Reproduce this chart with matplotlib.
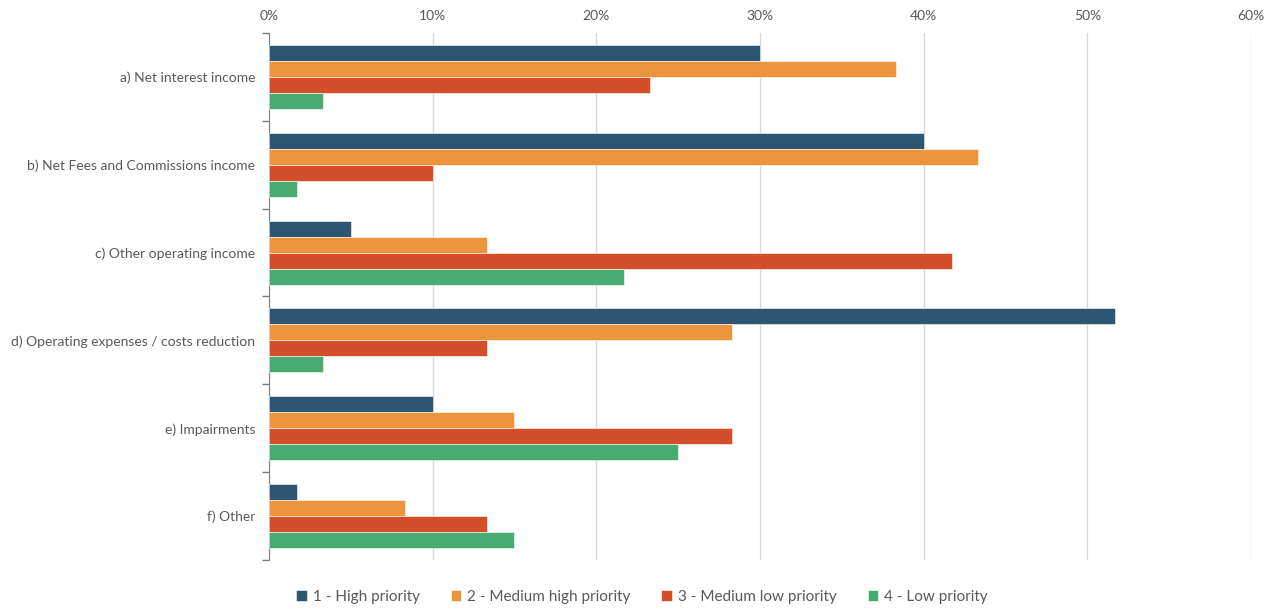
import matplotlib
matplotlib.use("Agg")
import matplotlib.pyplot as plt
import matplotlib.ticker as mticker
import numpy as np

# ── data (percent) ──────────────────────────────────────────────────
categories = [
    "a) Net interest income",
    "b) Net Fees and Commissions income",
    "c) Other operating income",
    "d) Operating expenses / costs reduction",
    "e) Impairments",
    "f) Other",
]
series_names = [
    "1 - High priority",
    "2 - Medium high priority",
    "3 - Medium low priority",
    "4 - Low priority",
]
high = [30.0, 40.0, 5.0, 51.7, 10.0, 1.7]
med_high = [38.3, 43.3, 13.3, 28.3, 15.0, 8.3]
med_low = [23.3, 10.0, 41.7, 13.3, 28.3, 13.3]
low = [3.3, 1.7, 21.7, 3.3, 25.0, 15.0]

# ── style ───────────────────────────────────────────────────────────
COLORS = ["#2E5571", "#EB943B", "#D44E2A", "#47AB72"]
TEXT = "#595959"
plt.rcParams["font.family"] = ["Lato", "DejaVu Sans"]

fig = plt.figure(figsize=(12.74, 6.10), dpi=100)
ax = fig.add_axes([0.2111, 0.082, 0.7709, 0.8639])

n_cat = len(categories)
bar_h = 0.182
y = np.arange(n_cat)
for i, (vals, name) in enumerate(zip([high, med_high, med_low, low], series_names)):
    offs = (i - 1.5) * bar_h
    ax.barh(y + offs, vals, height=bar_h, color=COLORS[i], label=name,
            edgecolor="white", linewidth=0.4, zorder=3)

ax.set_xlim(0, 60)
ax.set_ylim(n_cat - 0.5, -0.5)
ax.xaxis.set_major_locator(mticker.MultipleLocator(10))
ax.xaxis.set_major_formatter(mticker.FuncFormatter(lambda v, p: f"{v:.0f}%"))
ax.xaxis.tick_top()
ax.tick_params(axis="x", length=0, pad=8, labelsize=10, labelcolor=TEXT)
ax.grid(axis="x", color="#D9D9D9", linewidth=1, zorder=0)

ax.set_yticks(y)
ax.set_yticklabels(categories)
ax.set_yticks(np.arange(n_cat + 1) - 0.5, minor=True)
ax.tick_params(axis="y", which="major", length=0, pad=10, labelsize=10, labelcolor=TEXT)
ax.tick_params(axis="y", which="minor", length=5, color="#7F7F7F", width=1)

for s in ["top", "right", "bottom"]:
    ax.spines[s].set_visible(False)
ax.spines["left"].set_color("#7F7F7F")

ax.legend(loc="upper center", bbox_to_anchor=(0.38, -0.03), ncol=4, frameon=False,
          fontsize=11, labelcolor=TEXT, handlelength=0.7, handleheight=0.7,
          handletextpad=0.4, columnspacing=2.0)

fig.savefig("out.png", dpi=100, facecolor="white")
